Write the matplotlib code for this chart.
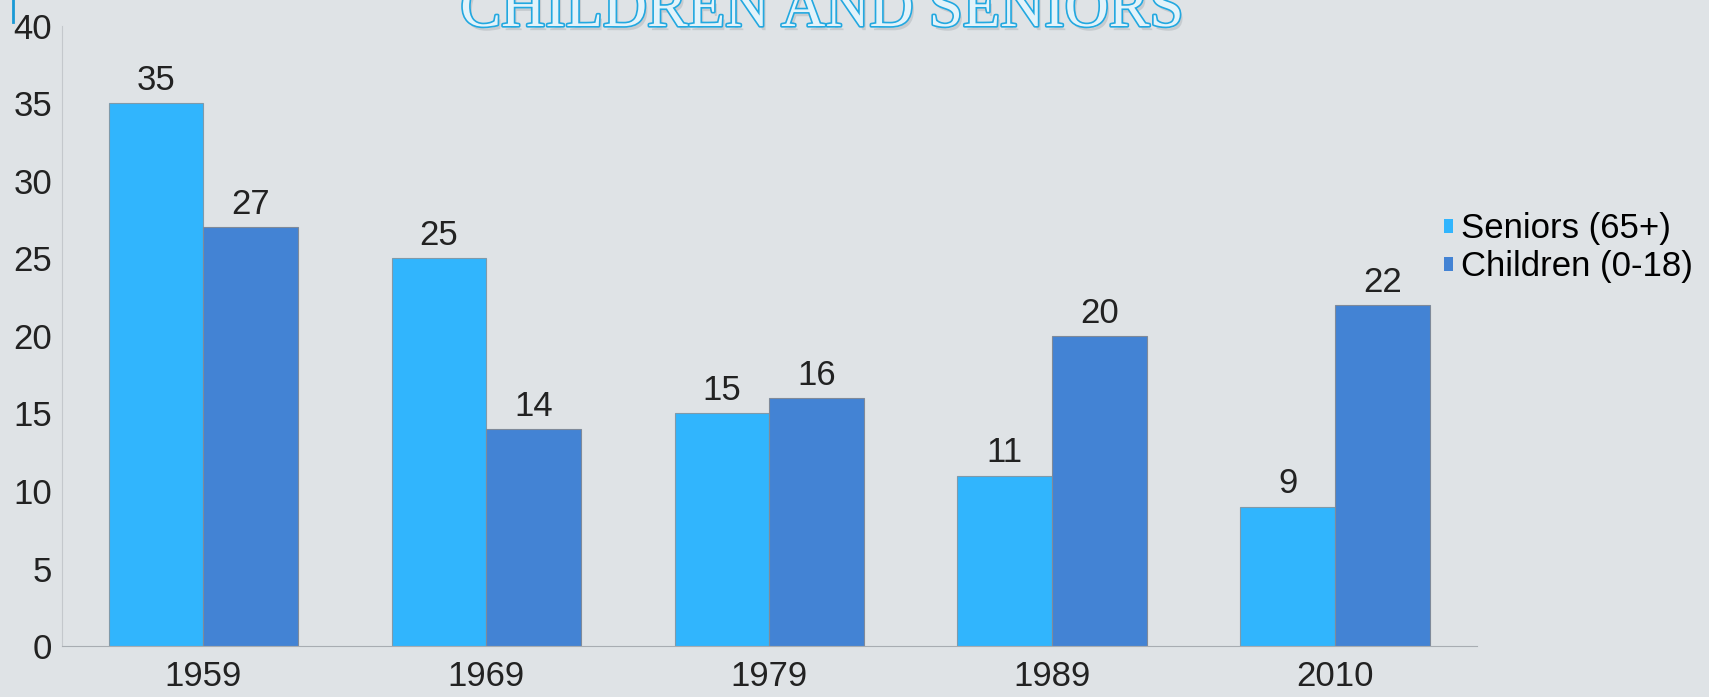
import matplotlib.pyplot as plt
import matplotlib.patheffects as pe
import numpy as np

# Daten
years = ['1959', '1969', '1979', '1989', '2010']
seniors = [35, 25, 15, 11, 9]
children = [27, 14, 16, 20, 22]
series_names = ['Seniors (65+)', 'Children (0-18)']

bg = '#dfe3e6'
c_sen = '#31b5fd'
c_chi = '#4383d4'
plt.rcParams['font.family'] = ['Liberation Sans', 'DejaVu Sans']

fig = plt.figure(figsize=(17.09, 6.97), dpi=100, facecolor=bg)
ax = fig.add_axes([0.0363, 0.073, 0.8277, 0.89], facecolor=bg)

x = np.arange(len(years))
w = 0.335
b1 = ax.bar(x - w/2, seniors, w, color=c_sen, edgecolor='#7f9aaa', linewidth=0.8, label=series_names[0])
b2 = ax.bar(x + w/2, children, w, color=c_chi, edgecolor='#7f8a9a', linewidth=0.8, label=series_names[1])

# Werte über den Balken
for bars in (b1, b2):
    for bar in bars:
        h = bar.get_height()
        ax.text(bar.get_x() + bar.get_width()/2, h + 0.4, f"{h:g}", ha='center', va='bottom',
                fontsize=25, color='#222222')

ax.set_xlim(-0.5, len(years) - 0.5)
ax.set_ylim(0, 40)
ax.set_yticks(range(0, 41, 5))
ax.set_xticks(x, years)
ax.tick_params(length=0, labelsize=25, colors='#222222')
ax.tick_params(axis='y', pad=7)
ax.tick_params(axis='x', pad=10)
for s in ('top', 'right'):
    ax.spines[s].set_visible(False)
ax.spines['left'].set_color('#c4c8cc')
ax.spines['bottom'].set_color('#a8adb2')

leg = ax.legend(loc='center left', bbox_to_anchor=(0.977, 0.642), frameon=False, fontsize=25,
                handlelength=0.25, handleheight=0.25, handletextpad=0.25, labelspacing=0.14,
                borderaxespad=0, borderpad=0)
for h in leg.legend_handles:
    h.set_edgecolor('none')

# Titel (oben abgeschnitten)
fig.text(0.481, 1 - 26/697, 'CHILDREN AND SENIORS', ha='center', va='baseline', fontsize=44,
         family='Liberation Serif', color='#e3f3fa',
         path_effects=[pe.SimplePatchShadow(offset=(2, -3), shadow_rgbFace='#9aa0a6', alpha=0.35),
                       pe.withStroke(linewidth=2.4, foreground='#22a8e0')])

# kleiner Cursorstrich oben links
fig.add_artist(plt.Line2D([0.0076, 0.0076], [1.0, 1 - 22/697], color='#1a9ad6', linewidth=2,
                          transform=fig.transFigure))

fig.savefig('out.png', dpi=100, facecolor=bg)
